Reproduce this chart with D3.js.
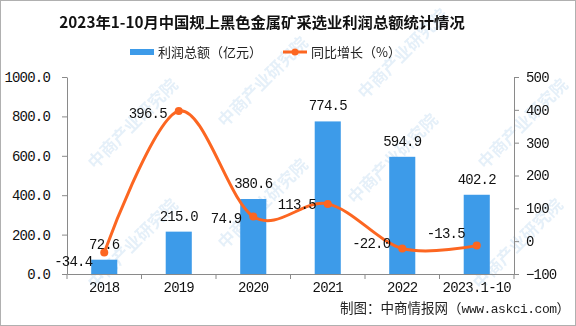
<!DOCTYPE html>
<html><head><meta charset="utf-8">
<script src="https://cdn.jsdelivr.net/npm/d3@7"></script>
<style>
html,body{margin:0;padding:0;background:#fff;}
svg{display:block;}
</style></head>
<body>
<svg id="chart" width="576" height="326"></svg>
<script>
const categories = ["2018","2019","2020","2021","2022","2023.1-10"];
const profit = [72.6, 215.0, 380.6, 774.5, 594.9, 402.2];
const growth = [-34.4, 396.5, 74.9, 113.5, -22.0, -13.5];
const leftTicks = [0, 200, 400, 600, 800, 1000];
const rightTicks = [-100, 0, 100, 200, 300, 400, 500];

const numFont = "'Liberation Mono', 'DejaVu Sans Mono', monospace";
const cjkFont = "'Noto Sans CJK SC', 'Noto Sans', sans-serif";
const barColor = "#3d9be9";
const lineColor = "#fc6621";
const axisColor = "#8a8a8a";

const svg = d3.select("#chart");
const W = 576, H = 326;
const m = {left: 67, right: 62, top: 77, bottom: 52};
const x0 = m.left, x1 = W - m.right, yTop = m.top, yBot = H - m.bottom;

svg.append("rect").attr("x",0.5).attr("y",0.5).attr("width",W-1).attr("height",H-1)
  .attr("fill","#fff").attr("stroke","#b0b0b0");

// watermark
const wm = svg.append("g").attr("opacity", 0.2);
[[95,290],[225,250],[355,205],[95,170],[225,128],[365,100],[485,170],[480,290]].forEach(([px,py])=>{
  wm.append("text").attr("transform",`translate(${px},${py}) rotate(-45)`)
    .attr("font-family",cjkFont).attr("font-size",17).attr("font-weight","bold")
    .attr("fill","#7fb3e0").text("中商产业研究院");
});

const x = d3.scaleBand().domain(categories).range([x0, x1]).padding(0);
const yL = d3.scaleLinear().domain([0, 1000]).range([yBot, yTop]);
const yR = d3.scaleLinear().domain([-100, 500]).range([yBot, yTop]);

// title
svg.append("text").attr("x", 262).attr("y", 28).attr("text-anchor","middle")
  .attr("font-family", cjkFont).attr("font-weight","bold").attr("font-size",15.3)
  .attr("fill","#111").text("2023年1-10月中国规上黑色金属矿采选业利润总额统计情况");

// legend
svg.append("rect").attr("x",130).attr("y",49).attr("width",24).attr("height",6).attr("fill",barColor);
svg.append("text").attr("x",158).attr("y",57).attr("font-family",cjkFont).attr("font-size",13)
  .attr("fill","#222").text("利润总额（亿元）");
svg.append("line").attr("x1",283).attr("x2",307).attr("y1",52).attr("y2",52)
  .attr("stroke",lineColor).attr("stroke-width",3);
svg.append("circle").attr("cx",295).attr("cy",52).attr("r",3.5).attr("fill",lineColor);
svg.append("text").attr("x",311).attr("y",57).attr("font-family",cjkFont).attr("font-size",13)
  .attr("fill","#222").text("同比增长（%）");

// axes
function styleAxis(g){
  g.selectAll("path.domain").attr("stroke",axisColor);
  g.selectAll(".tick line").attr("stroke",axisColor);
  g.selectAll(".tick text").attr("font-family",numFont).attr("font-size",14)
    .attr("letter-spacing","-0.8px").attr("fill","#111");
}
const gL = svg.append("g").attr("transform",`translate(${x0},0)`)
  .call(d3.axisLeft(yL).tickValues(leftTicks).tickFormat(d3.format(".1f")).tickSize(5).tickSizeOuter(0).tickPadding(12));
styleAxis(gL);
const gR = svg.append("g").attr("transform",`translate(${x1},0)`)
  .call(d3.axisRight(yR).tickValues(rightTicks).tickFormat(d=>d===-100?"−100":d).tickSize(5).tickSizeOuter(0).tickPadding(7));
styleAxis(gR);
const gX = svg.append("g").attr("transform",`translate(0,${yBot})`)
  .call(d3.axisBottom(x).tickSize(0).tickSizeOuter(0).tickPadding(8));
styleAxis(gX);
gX.selectAll("line.bnd").data(d3.range(categories.length+1)).join("line")
  .attr("class","bnd").attr("x1",i=>x0+i*x.step()).attr("x2",i=>x0+i*x.step())
  .attr("y1",0).attr("y2",5).attr("stroke",axisColor);

// bars
const bw = x.bandwidth()*0.35;
svg.append("g").selectAll("rect").data(profit).join("rect")
  .attr("x",(d,i)=>x(categories[i])+x.bandwidth()/2-bw/2)
  .attr("y",d=>yL(d)).attr("width",bw).attr("height",d=>yBot-yL(d))
  .attr("fill",barColor);
svg.append("g").selectAll("text").data(profit).join("text")
  .attr("x",(d,i)=>x(categories[i])+x.bandwidth()/2)
  .attr("y",d=>yL(d)-11).attr("text-anchor","middle")
  .attr("font-family",numFont).attr("font-size",14).attr("letter-spacing","-0.8px")
  .attr("fill","#111").text(d=>d.toFixed(1));

// line
const cx = (d,i)=>x(categories[i])+x.bandwidth()/2;
const line = d3.line().x(cx).y(d=>yR(d)).curve(d3.curveCardinal.tension(0));
svg.append("path").datum(growth).attr("d",line).attr("fill","none")
  .attr("stroke",lineColor).attr("stroke-width",3);
svg.append("g").selectAll("circle").data(growth).join("circle")
  .attr("cx",cx).attr("cy",d=>yR(d)).attr("r",4).attr("fill",lineColor);
const lblDy = [9, 2, 1, 0, -5, -13];
svg.append("g").selectAll("text").data(growth).join("text")
  .attr("x",(d,i)=>cx(d,i)-12).attr("y",(d,i)=>yR(d)+lblDy[i]+5).attr("text-anchor","end")
  .attr("font-family",numFont).attr("font-size",14).attr("letter-spacing","-0.8px")
  .attr("fill","#111").text(d=>(d<0?"-":"")+Math.abs(d).toFixed(1));

// footer
const ft = svg.append("text").attr("x",570).attr("y",313).attr("text-anchor","end")
  .attr("font-family",cjkFont).attr("font-size",13.5).attr("fill","#222");
ft.append("tspan").text("制图：中商情报网（");
ft.append("tspan").attr("font-family",numFont).attr("font-size",13).attr("letter-spacing","-0.5px").text("www.askci.com");
ft.append("tspan").text("）");
</script>
</body></html>
